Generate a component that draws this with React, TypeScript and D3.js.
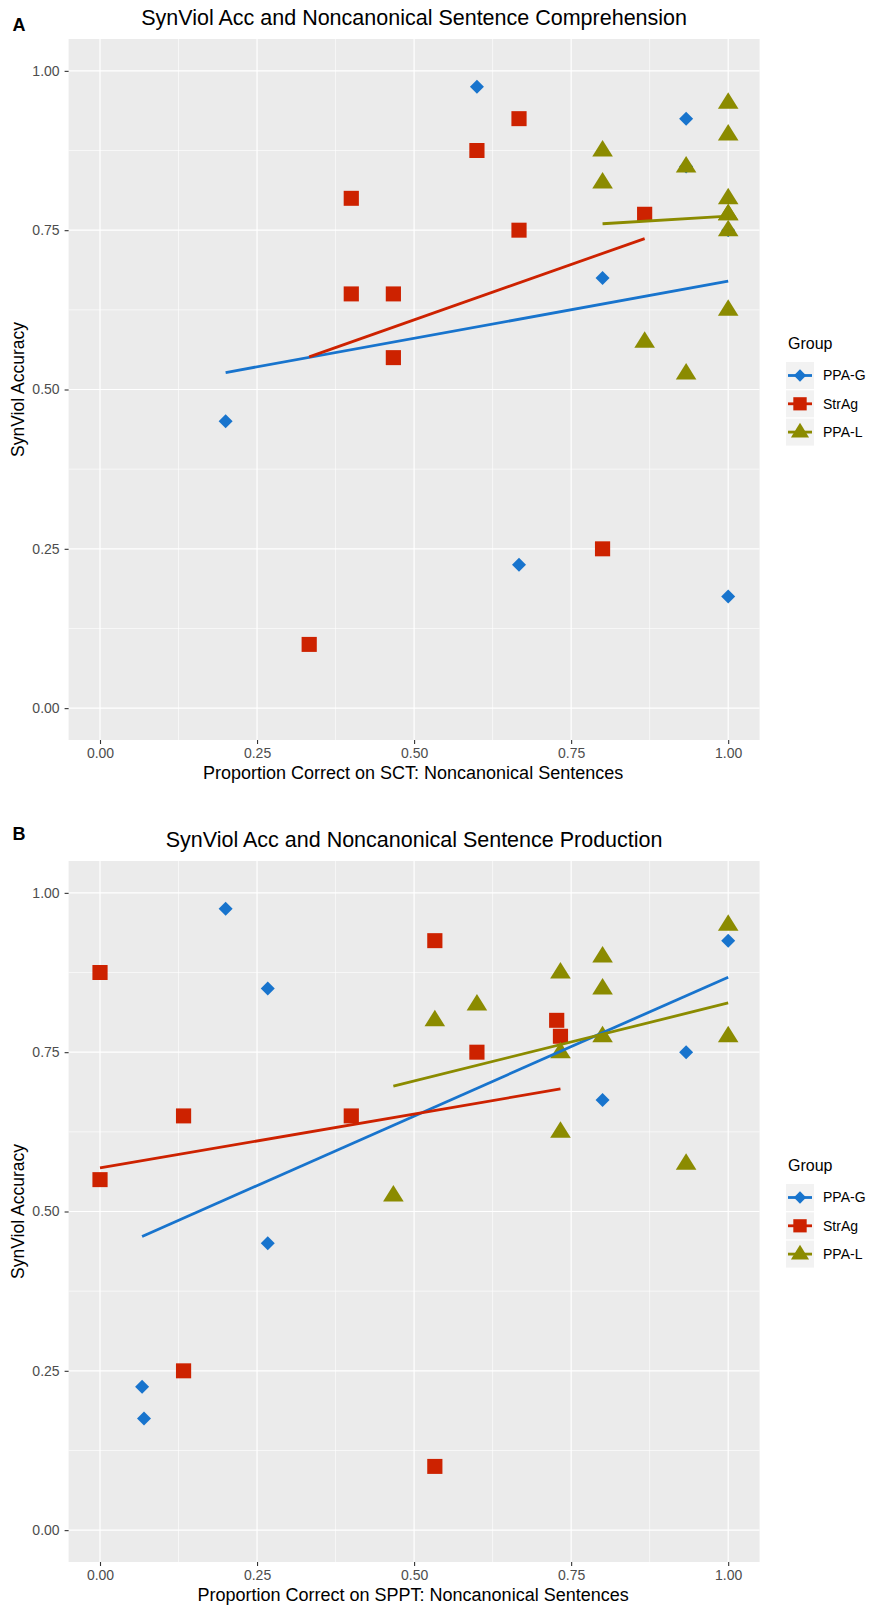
import React, { useRef, useEffect } from "react";
import * as d3 from "d3";

const groups = ["PPA-G", "StrAg", "PPA-L"];
const colors = ["#1874CD", "#CD2200", "#8B8B00"];
const ticks = [0, 0.25, 0.5, 0.75, 1];
const minorTicks = [0.125, 0.375, 0.625, 0.875];

// panel A: SCT noncanonical vs SynViol accuracy
const sctPpaG = [[0.2, 0.45], [0.6, 0.975], [0.667, 0.225], [0.8, 0.675], [0.933, 0.925], [0.933, 0.85], [1, 0.75], [1, 0.175]];
const sctStrAg = [[0.333, 0.1], [0.4, 0.8], [0.4, 0.65], [0.467, 0.65], [0.467, 0.55], [0.6, 0.875], [0.667, 0.925], [0.667, 0.75], [0.8, 0.25], [0.867, 0.775]];
const sctPpaL = [[0.8, 0.875], [0.8, 0.825], [0.867, 0.575], [0.933, 0.85], [0.933, 0.525], [1, 0.95], [1, 0.9], [1, 0.8], [1, 0.775], [1, 0.775], [1, 0.75], [1, 0.625]];

// panel B: SPPT noncanonical vs SynViol accuracy
const spptPpaG = [[0.067, 0.225], [0.07, 0.175], [0.2, 0.975], [0.267, 0.85], [0.267, 0.45], [0.8, 0.675], [0.933, 0.75], [1, 0.925]];
const spptStrAg = [[0, 0.875], [0, 0.55], [0.133, 0.65], [0.133, 0.25], [0.4, 0.65], [0.533, 0.925], [0.533, 0.1], [0.6, 0.75], [0.727, 0.8], [0.733, 0.775]];
const spptPpaL = [[0.467, 0.525], [0.533, 0.8], [0.6, 0.825], [0.733, 0.875], [0.733, 0.75], [0.733, 0.625], [0.8, 0.9], [0.8, 0.85], [0.8, 0.775], [0.933, 0.575], [1, 0.95], [1, 0.775]];

const panels = [
  { tag: "A", title: "SynViol Acc and Noncanonical Sentence Comprehension", xLabel: "Proportion Correct on SCT: Noncanonical Sentences", series: [sctPpaG, sctStrAg, sctPpaL], top: 39, tagY: 30.5 },
  { tag: "B", title: "SynViol Acc and Noncanonical Sentence Production", xLabel: "Proportion Correct on SPPT: Noncanonical Sentences", series: [spptPpaG, spptStrAg, spptPpaL], top: 861, tagY: 839.5 },
];

const font = "'Liberation Sans', Arial, Helvetica, sans-serif";

// ggplot-like shapes: 18 diamond, 15 square, 17 triangle
function shapePath(i: number, s = 1) {
  if (i === 0) return `M0,${-7 * s}L${7 * s},0L0,${7 * s}L${-7 * s},0Z`;
  if (i === 1) return `M${-7.6 * s},${-7.5 * s}h${15.2 * s}v${15 * s}h${-15.2 * s}Z`;
  return `M0,${-10.5 * s}L${10.3 * s},${6 * s}L${-10.3 * s},${6 * s}Z`;
}

function fit(pts: number[][]) {
  const mx = d3.mean(pts, (d) => d[0]) as number;
  const my = d3.mean(pts, (d) => d[1]) as number;
  const sxy = d3.sum(pts, (d) => (d[0] - mx) * (d[1] - my));
  const sxx = d3.sum(pts, (d) => (d[0] - mx) ** 2);
  const b = sxy / sxx;
  const [x0, x1] = d3.extent(pts, (d) => d[0]) as [number, number];
  return [
    [x0, my + b * (x0 - mx)],
    [x1, my + b * (x1 - mx)],
  ];
}

function App() {
  const ref = useRef<SVGSVGElement>(null);

  function drawChart() {
    const svg = d3.select(ref.current);
    svg.selectAll("*").remove();
    const left = 68.6;
    const width = 691;
    const height = 701;

    panels.forEach((p) => {
      const top = p.top;
      const x = d3.scaleLinear().domain([-0.05, 1.05]).range([left, left + width]);
      const y = d3.scaleLinear().domain([-0.05, 1.05]).range([top + height, top]);
      const g = svg.append("g").attr("font-family", font);

      g.append("text")
        .attr("x", 12.5)
        .attr("y", p.tagY)
        .attr("font-size", 18)
        .attr("font-weight", "bold")
        .text(p.tag);

      g.append("text")
        .attr("x", left + width / 2)
        .attr("y", top - 14)
        .attr("text-anchor", "middle")
        .attr("font-size", 21.5)
        .text(p.title);

      g.append("rect")
        .attr("x", left)
        .attr("y", top)
        .attr("width", width)
        .attr("height", height)
        .attr("fill", "#EBEBEB");

      const grid = g.append("g").attr("stroke", "#fff");
      grid.selectAll(".mx").data(minorTicks).join("line")
        .attr("x1", (d) => x(d)).attr("x2", (d) => x(d))
        .attr("y1", top).attr("y2", top + height).attr("stroke-width", 0.6);
      grid.selectAll(".my").data(minorTicks).join("line")
        .attr("y1", (d) => y(d)).attr("y2", (d) => y(d))
        .attr("x1", left).attr("x2", left + width).attr("stroke-width", 0.6);
      grid.selectAll(".gx").data(ticks).join("line")
        .attr("x1", (d) => x(d)).attr("x2", (d) => x(d))
        .attr("y1", top).attr("y2", top + height).attr("stroke-width", 1.2);
      grid.selectAll(".gy").data(ticks).join("line")
        .attr("y1", (d) => y(d)).attr("y2", (d) => y(d))
        .attr("x1", left).attr("x2", left + width).attr("stroke-width", 1.2);

      // axes
      const fmt = d3.format(".2f");
      const xAxis = g.append("g").attr("transform", `translate(0,${top + height})`)
        .call(d3.axisBottom(x).tickValues(ticks).tickFormat(fmt).tickSize(4).tickPadding(4))
        .call((a) => a.select(".domain").remove());
      xAxis.selectAll("line").attr("stroke", "#333").attr("stroke-width", 1.1);
      xAxis.selectAll("text").attr("font-size", 14).attr("fill", "#4D4D4D").attr("font-family", font);

      const yAxis = g.append("g").attr("transform", `translate(${left},0)`)
        .call(d3.axisLeft(y).tickValues(ticks).tickFormat(fmt).tickSize(4).tickPadding(5))
        .call((a) => a.select(".domain").remove());
      yAxis.selectAll("line").attr("stroke", "#333").attr("stroke-width", 1.1);
      yAxis.selectAll("text").attr("font-size", 14).attr("fill", "#4D4D4D").attr("font-family", font);

      g.append("text")
        .attr("x", left + width / 2 - 1)
        .attr("y", top + height + 39)
        .attr("text-anchor", "middle")
        .attr("font-size", 18)
        .text(p.xLabel);

      g.append("text")
        .attr("transform", `translate(24,${top + height / 2}) rotate(-90)`)
        .attr("text-anchor", "middle")
        .attr("font-size", 17.5)
        .text("SynViol Accuracy");

      // points
      p.series.forEach((pts, i) => {
        g.append("g").selectAll("path").data(pts).join("path")
          .attr("transform", (d) => `translate(${x(d[0])},${y(d[1])})`)
          .attr("d", shapePath(i))
          .attr("fill", colors[i]);
      });

      // lm lines
      const line = d3.line<number[]>().x((d) => x(d[0])).y((d) => y(d[1]));
      p.series.forEach((pts, i) => {
        g.append("path")
          .attr("d", line(fit(pts)))
          .attr("fill", "none")
          .attr("stroke", colors[i])
          .attr("stroke-width", 2.8);
      });

      // legend
      const lg = g.append("g").attr("transform", `translate(786,${top})`);
      lg.append("text").attr("x", 2).attr("y", 310).attr("font-size", 16).text("Group");
      groups.forEach((name, i) => {
        const ky = 323 + i * 28.3;
        lg.append("rect").attr("x", 0).attr("y", ky).attr("width", 28).attr("height", 27).attr("fill", "#F2F2F2");
        lg.append("line")
          .attr("x1", 2).attr("x2", 26).attr("y1", ky + 13.5).attr("y2", ky + 13.5)
          .attr("stroke", colors[i]).attr("stroke-width", 2.8);
        lg.append("path")
          .attr("transform", `translate(14,${ky + 13.5})`)
          .attr("d", shapePath(i, 0.88))
          .attr("fill", colors[i]);
        lg.append("text")
          .attr("x", 37).attr("y", ky + 13.5)
          .attr("dy", "0.35em")
          .attr("font-size", 14)
          .text(name);
      });
    });
  }

  useEffect(() => {
    drawChart();
  }, []);

  return (
    <svg
      ref={ref}
      width={872}
      height={1608}
      style={{ position: "absolute", left: 0, top: 0, background: "#fff" }}
    />
  );
}

export default App;
